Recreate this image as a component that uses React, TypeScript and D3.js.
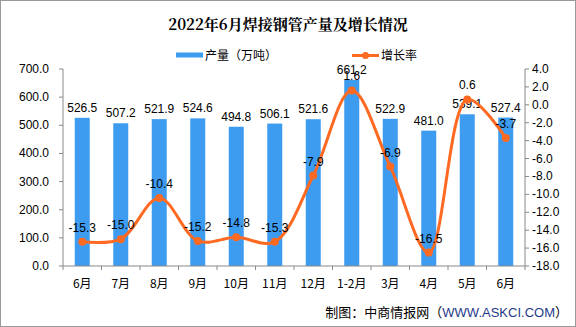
import React from "react";
import * as d3 from "d3";

const categories = ["6月", "7月", "8月", "9月", "10月", "11月", "12月", "1-2月", "3月", "4月", "5月", "6月"];
const output = [526.5, 507.2, 521.9, 524.6, 494.8, 506.1, 521.6, 661.2, 522.9, 481.0, 539.1, 527.4];
const growth = [-15.3, -15.0, -10.4, -15.2, -14.8, -15.3, -7.9, 1.6, -6.9, -16.5, 0.6, -3.7];
const leftTicks = [0, 100, 200, 300, 400, 500, 600, 700];
const rightTicks = [4, 2, 0, -2, -4, -6, -8, -10, -12, -14, -16, -18];

const W = 576, H = 327;
const left = 63, right = 525, top = 69, bottom = 266;
const BLUE = "#3d9cf0";
const ORANGE = "#ff6a22";
const numFont = "'Liberation Sans', Arial, sans-serif";
const cjkFont = "'Noto Sans CJK SC', sans-serif";

export default function App() {
  const step = (right - left) / categories.length;
  const cx = (i: number) => left + step * (i + 0.5);
  const y = d3.scaleLinear().domain([0, 700]).range([bottom, top]);
  const y2 = d3.scaleLinear().domain([-18, 4]).range([bottom, top]);
  const bw = 15;
  const line = d3.line<number>().x((_, i) => cx(i)).y((d) => y2(d)).curve(d3.curveCatmullRom.alpha(0.5));

  return (
    <svg width={W} height={H} style={{ position: "absolute", left: 0, top: 0 }}>
      <rect x={0.5} y={0.5} width={W - 1} height={H - 1} fill="#fff" stroke="#999" />
      <text x={288} y={30} textAnchor="middle" fontFamily={"'Noto Serif CJK SC', 'Noto Sans CJK SC', serif"} fontWeight="bold" fontSize={15}>2022年6月焊接钢管产量及增长情况</text>
      {/* legend */}
      <rect x={176} y={52.5} width={27} height={5} fill={BLUE} />
      <text x={205} y={60} fontFamily={cjkFont} fontSize={12}>产量（万吨）</text>
      <line x1={352} x2={379} y1={55.5} y2={55.5} stroke={ORANGE} strokeWidth={3} />
      <circle cx={365.5} cy={55.5} r={3.5} fill={ORANGE} />
      <text x={381} y={60} fontFamily={cjkFont} fontSize={12}>增长率</text>

      {/* bars */}
      {output.map((v, i) => (
        <rect key={"b" + i} x={cx(i) - bw / 2} y={y(v)} width={bw} height={bottom - y(v)} fill={BLUE} />
      ))}
      {output.map((v, i) => (
        <text key={"bl" + i} x={cx(i)} y={y(v) - 6} textAnchor="middle" fontFamily={numFont} fontSize={12}>{v.toFixed(1)}</text>
      ))}

      {/* left axis */}
      <line x1={left} x2={left} y1={top} y2={bottom} stroke="#888" />
      {leftTicks.map((t) => (
        <g key={"lt" + t}>
          <line x1={left - 4} x2={left} y1={y(t)} y2={y(t)} stroke="#888" />
          <text x={49} y={y(t) + 4} textAnchor="end" fontFamily={numFont} fontSize={12}>{t.toFixed(1)}</text>
        </g>
      ))}
      {/* right axis */}
      <line x1={right} x2={right} y1={top} y2={bottom} stroke="#888" />
      {rightTicks.map((t) => (
        <g key={"rt" + t}>
          <line x1={right} x2={right + 4} y1={y2(t)} y2={y2(t)} stroke="#888" />
          <text x={532} y={y2(t) + 4} textAnchor="start" fontFamily={numFont} fontSize={12}>{t.toFixed(1)}</text>
        </g>
      ))}
      {/* x axis */}
      <line x1={left} x2={right} y1={bottom} y2={bottom} stroke="#888" />
      {d3.range(categories.length + 1).map((i) => (
        <line key={"xt" + i} x1={left + step * i} x2={left + step * i} y1={bottom} y2={bottom + 4} stroke="#888" />
      ))}
      {categories.map((c, i) => (
        <text key={"xl" + i} x={cx(i)} y={288} textAnchor="middle" fontFamily={cjkFont} fontSize={12}>{c}</text>
      ))}

      {/* line */}
      <path d={line(growth) || ""} fill="none" stroke={ORANGE} strokeWidth={3} />
      {growth.map((v, i) => (
        <circle key={"p" + i} cx={cx(i)} cy={y2(v)} r={4} fill={ORANGE} />
      ))}
      {growth.map((v, i) => (
        <text key={"gl" + i} x={cx(i)} y={y2(v) - 10} textAnchor="middle" fontFamily={numFont} fontSize={12}>{v.toFixed(1)}</text>
      ))}

      <text x={568} y={317} textAnchor="end" fontFamily={cjkFont} fontSize={13}>
        制图：中商情报网（<tspan fill="#1f3a8a" fontFamily={numFont}>WWW.ASKCI.COM</tspan>）
      </text>
    </svg>
  );
}
